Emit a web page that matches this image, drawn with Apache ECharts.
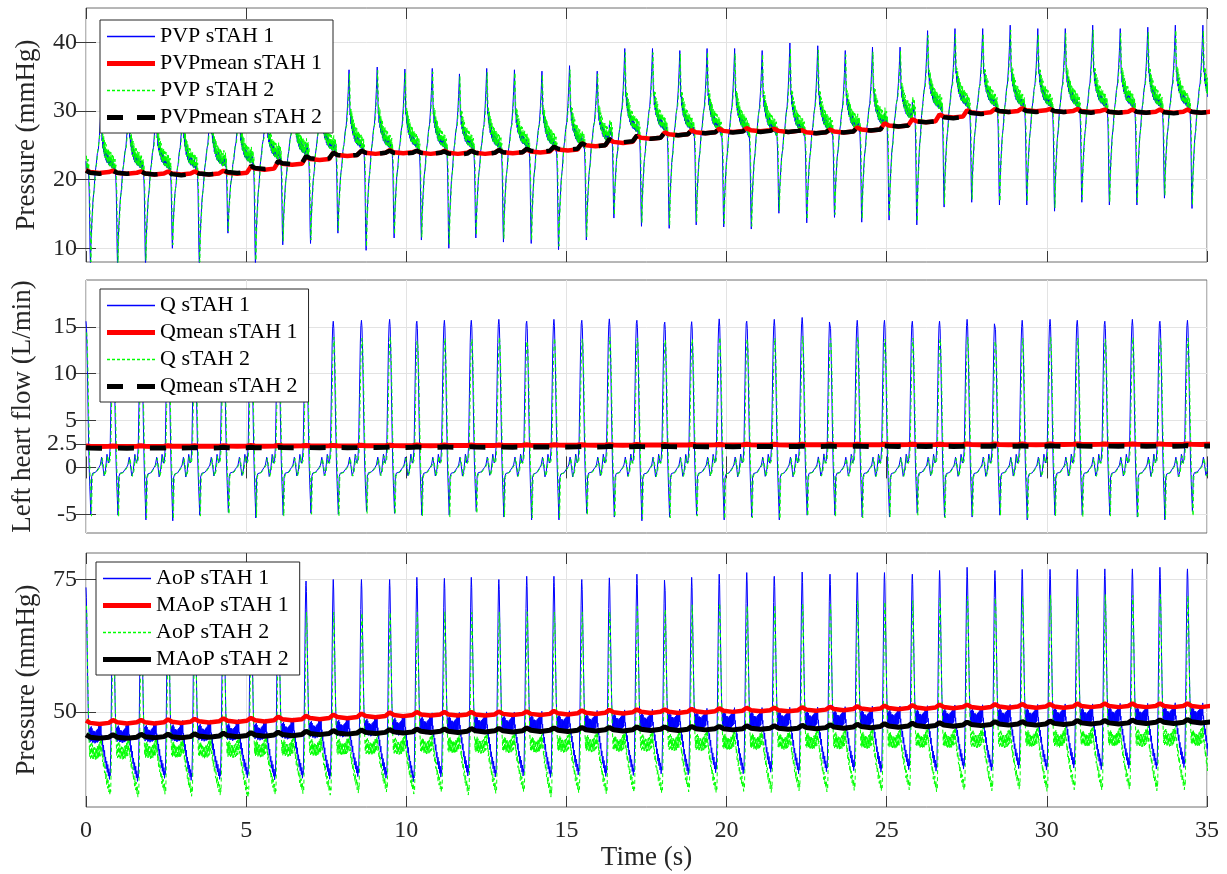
<!DOCTYPE html>
<html>
<head>
<meta charset="utf-8">
<script src="https://cdn.jsdelivr.net/npm/echarts@6/dist/echarts.min.js"></script>
<style>
  html, body { margin: 0; padding: 0; background: #fff; }
  #chart { width: 1227px; height: 874px; }
</style>
</head>
<body>
<div id="chart"></div>
<script>
// Beat timing (s) of each flow spike
const beatTimes = [0.0, 0.84, 1.72, 2.56, 3.39, 4.29, 5.15, 6.0, 6.87, 7.72, 8.6, 9.48, 10.33, 11.19, 12.03, 12.89, 13.76, 14.61, 15.48, 16.34, 17.2, 18.07, 18.91, 19.77, 20.63, 21.49, 22.36, 23.23, 24.08, 24.93, 25.8, 26.65, 27.51, 28.38, 29.23, 30.1, 30.95, 31.81, 32.67, 33.53, 34.39];

// Top panel: pulmonary venous pressure (mmHg), one value per beat
const pvp1Peak = [31, 32, 32, 32, 33, 33, 33, 34, 34, 36.0, 36.4, 36.1, 36.2, 35.4, 36.2, 36.0, 35.8, 36.6, 35.8, 39.1, 39.1, 38.8, 39.1, 39.1, 38.8, 39.9, 39.5, 38.8, 39.3, 39.3, 41.7, 42.0, 42.0, 42.5, 42.0, 42.0, 42.5, 42.0, 42.2, 42.5, 42.5];
const pvp1Trough = [7.5, 7.5, 7.5, 10.0, 7.5, 12.2, 7.5, 10.5, 10.7, 12.2, 9.7, 11.5, 11.2, 10.0, 11.5, 10.9, 10.7, 9.8, 11.2, 14.4, 13.2, 12.9, 13.4, 13.1, 12.8, 15.1, 13.7, 14.5, 13.8, 14.1, 13.4, 16.0, 16.7, 16.3, 16.3, 15.4, 16.7, 16.3, 16.3, 17.3, 15.8];
const pvp1Plateau = [22.5, 22.5, 22.5, 22.5, 22.8, 23.2, 23.8, 24.4, 25.0, 25.4, 25.5, 25.5, 25.5, 25.5, 25.5, 25.6, 25.7, 25.8, 26.2, 27.8, 28.0, 28.0, 28.0, 27.9, 27.8, 27.8, 27.9, 28.1, 28.6, 29.5, 31.2, 31.5, 31.5, 31.5, 31.5, 31.5, 31.5, 31.5, 31.5, 31.5, 31.5];
const pvp2Peak = [30.5, 31.5, 31.5, 31.5, 32.5, 32.5, 32.5, 33.5, 33.5, 35.5, 35.9, 35.6, 35.7, 35.0, 35.6, 35.6, 35.3, 36.0, 35.4, 38.5, 38.5, 38.3, 38.6, 38.4, 38.3, 39.2, 38.9, 38.2, 38.6, 38.7, 41.0, 41.2, 41.3, 41.8, 41.2, 41.3, 41.8, 41.3, 41.5, 41.8, 41.7];
const pvp2Trough = [8.0, 7.8, 8.2, 10.5, 8.0, 12.5, 8.2, 11.0, 11.2, 12.6, 10.2, 12.0, 11.6, 10.5, 11.9, 11.4, 11.2, 10.3, 11.7, 14.8, 13.7, 13.4, 13.9, 13.6, 13.2, 15.5, 14.2, 14.9, 14.3, 14.6, 13.9, 16.4, 17.1, 16.8, 16.8, 15.9, 17.1, 16.8, 16.7, 17.7, 16.3];
const pvp2Plateau = [22.9, 22.9, 22.9, 22.9, 23.2, 23.6, 24.2, 24.8, 25.4, 25.8, 25.9, 25.9, 25.9, 25.9, 25.9, 26.0, 26.1, 26.2, 26.6, 28.2, 28.4, 28.4, 28.4, 28.3, 28.2, 28.2, 28.3, 28.5, 29.0, 29.9, 31.6, 31.9, 31.9, 31.9, 31.9, 31.9, 31.9, 31.9, 31.9, 31.9, 31.9];
const pvpMean1 = [21.1, 21.0, 20.9, 20.9, 20.9, 21.0, 21.6, 22.3, 23.0, 23.6, 23.9, 24.0, 23.9, 23.9, 23.9, 24.0, 24.1, 24.4, 25.0, 25.5, 26.1, 26.6, 26.9, 27.1, 27.2, 27.1, 26.9, 27.0, 27.3, 27.9, 28.5, 29.2, 29.8, 30.0, 30.1, 30.0, 30.0, 29.9, 29.9, 29.9, 29.9];
const pvpMean2 = [21.0, 21.0, 20.9, 20.8, 20.9, 21.1, 21.7, 22.4, 23.1, 23.6, 23.9, 23.9, 23.9, 23.8, 23.9, 24.0, 24.2, 24.5, 25.0, 25.6, 26.1, 26.6, 26.9, 27.0, 27.1, 27.1, 26.9, 27.0, 27.3, 27.9, 28.5, 29.1, 29.7, 30.0, 30.0, 30.0, 29.9, 29.9, 29.9, 29.8, 29.9];

// Middle panel: left heart flow (L/min)
const q1Peak = [15.6, 15.5, 15.5, 15.5, 15.5, 15.5, 15.5, 15.5, 15.5, 15.6, 15.7, 15.8, 15.6, 15.7, 15.7, 15.8, 15.6, 15.8, 15.7, 15.85, 15.7, 15.5, 15.55, 15.85, 15.6, 15.8, 16.0, 15.6, 15.7, 15.7, 15.6, 15.6, 15.8, 15.5, 15.7, 15.8, 15.7, 15.6, 15.8, 15.6, 15.7];
const q1Trough = [-5.0, -5.1, -5.6, -5.7, -5.1, -4.8, -5.4, -5.1, -4.9, -5.0, -4.7, -4.9, -5.1, -5.1, -4.7, -5.3, -5.6, -5.6, -4.9, -5.3, -5.7, -5.3, -5.1, -5.6, -5.3, -5.6, -5.1, -5.1, -5.3, -5.3, -4.9, -5.3, -5.3, -5.1, -5.6, -5.1, -5.1, -5.1, -5.3, -5.6, -4.7];
const q2Peak = [14.4, 13.8, 13.8, 13.8, 13.8, 13.8, 13.8, 13.8, 13.8, 13.9, 13.8, 13.9, 13.6, 13.8, 13.7, 13.9, 13.6, 13.8, 13.7, 13.9, 13.8, 13.6, 13.7, 13.9, 13.7, 13.8, 14.0, 13.8, 13.9, 13.7, 13.8, 13.7, 13.9, 13.6, 13.8, 13.9, 13.8, 13.7, 13.9, 13.8, 13.8];
const q2Trough = [-5.2, -5.3, -5.4, -5.5, -5.2, -5.0, -5.3, -5.2, -5.0, -5.2, -4.9, -5.0, -5.2, -5.3, -4.9, -5.3, -5.4, -5.5, -5.1, -5.3, -5.5, -5.4, -5.2, -5.5, -5.4, -5.5, -5.2, -5.3, -5.4, -5.3, -5.1, -5.4, -5.2, -5.2, -5.5, -5.2, -5.3, -5.2, -5.4, -5.5, -5.2];
const qBaseline = 0;
const qMean1 = [2.25, 2.25, 2.26, 2.27, 2.27, 2.28, 2.29, 2.3, 2.3, 2.31, 2.32, 2.33, 2.34, 2.35, 2.35, 2.36, 2.37, 2.38, 2.38, 2.39, 2.4, 2.4, 2.41, 2.41, 2.42, 2.42, 2.43, 2.43, 2.43, 2.44, 2.44, 2.44, 2.45, 2.45, 2.45, 2.46, 2.46, 2.46, 2.46, 2.47, 2.47];
const qMean2 = [2.07, 2.07, 2.08, 2.09, 2.09, 2.1, 2.11, 2.12, 2.12, 2.13, 2.14, 2.15, 2.16, 2.17, 2.17, 2.18, 2.19, 2.2, 2.2, 2.21, 2.22, 2.22, 2.23, 2.23, 2.24, 2.24, 2.25, 2.25, 2.25, 2.26, 2.26, 2.26, 2.27, 2.27, 2.27, 2.28, 2.28, 2.28, 2.28, 2.29, 2.29];

// Bottom panel: aortic pressure (mmHg)
const aop1Peak = [73.5, 75, 75, 75, 75, 75, 75, 75, 74.7, 75.0, 75.0, 75.0, 75.4, 75.2, 75.4, 75.0, 75.6, 75.6, 75.0, 75.3, 76.0, 74.8, 75.4, 76.0, 76.3, 75.6, 76.4, 76.0, 76.3, 76.3, 76.0, 76.7, 77.3, 76.7, 76.9, 76.9, 76.9, 77.0, 77.0, 77.3, 77.0];
const aop1Trough = [38.0, 37.6, 38.2, 37.8, 38.0, 38.3, 37.9, 38.2, 38.0, 38.5, 38.2, 37.5, 38.4, 38.6, 38.4, 38.6, 38.3, 38.8, 38.5, 38.7, 39.0, 38.8, 39.2, 39.0, 39.3, 39.0, 39.4, 39.6, 39.3, 39.8, 39.5, 39.9, 39.6, 40.0, 39.7, 40.1, 39.8, 40.0, 39.9, 40.2, 39.9];
const aop1Plateau = [45.4, 45.5, 45.6, 45.7, 45.8, 45.9, 46.0, 46.2, 46.4, 46.6, 46.8, 47.0, 47.2, 47.3, 47.4, 47.4, 47.5, 47.6, 47.7, 47.8, 47.9, 48.0, 48.1, 48.2, 48.2, 48.3, 48.3, 48.4, 48.5, 48.5, 48.6, 48.7, 48.7, 48.8, 48.8, 48.9, 48.9, 49.0, 49.0, 49.1, 49.1];
const aop2Peak = [70, 69, 69, 69, 69, 69, 69, 68.8, 68.8, 68.8, 68.7, 68.8, 68.8, 68.9, 68.8, 68.8, 68.9, 68.8, 68.8, 68.9, 69.9, 69.3, 70.2, 70.5, 70.0, 70.2, 70.5, 70.3, 71.0, 70.8, 71.0, 71.5, 71.8, 71.5, 71.9, 72.0, 71.8, 72.2, 72.0, 72.2, 72.0];
const aop2Trough = [35.0, 34.6, 35.2, 34.8, 35.0, 34.5, 35.1, 35.3, 35.0, 35.4, 35.6, 35.2, 35.5, 35.0, 35.3, 35.6, 34.6, 35.4, 35.2, 35.5, 35.3, 35.6, 35.4, 35.7, 35.5, 35.8, 35.6, 35.9, 35.7, 36.0, 35.6, 35.9, 35.8, 36.1, 35.7, 36.0, 35.9, 36.1, 35.8, 36.0, 35.7];
const aop2Plateau = [42.3, 42.4, 42.5, 42.6, 42.6, 42.7, 42.8, 42.9, 43.0, 43.1, 43.2, 43.3, 43.4, 43.5, 43.5, 43.6, 43.6, 43.7, 43.8, 43.8, 43.9, 44.0, 44.0, 44.1, 44.2, 44.2, 44.3, 44.3, 44.4, 44.4, 44.5, 44.5, 44.6, 44.6, 44.7, 44.7, 44.8, 44.8, 44.8, 44.9, 44.9];
const maop1 = [47.9, 48.0, 48.0, 48.1, 48.2, 48.3, 48.4, 48.6, 48.8, 49.0, 49.2, 49.4, 49.5, 49.5, 49.5, 49.6, 49.6, 49.7, 49.8, 49.9, 50.0, 50.0, 50.1, 50.2, 50.3, 50.3, 50.4, 50.5, 50.6, 50.7, 50.8, 50.9, 50.9, 51.0, 51.0, 51.0, 51.1, 51.1, 51.1, 51.1, 51.1];
const maop2 = [45.2, 45.2, 45.3, 45.3, 45.4, 45.5, 45.6, 45.7, 45.9, 46.0, 46.1, 46.2, 46.3, 46.3, 46.4, 46.4, 46.5, 46.5, 46.6, 46.6, 46.7, 46.7, 46.8, 46.8, 46.9, 46.9, 47.0, 47.1, 47.2, 47.3, 47.4, 47.5, 47.6, 47.7, 47.7, 47.8, 47.9, 47.9, 48.0, 48.0, 48.1];

// One-beat shapes: [phase, level, noise]
// level 1 = beat peak, 0 = plateau, -1 = beat trough
const pvpShape = [
    [0.000, -0.02, 0.8], [0.015, -0.03, -0.9], [0.030, -0.04, 0.6], [0.045, -0.05, -1.0],
    [0.060, -0.06, 0.9], [0.075, -0.08, -0.7], [0.090, -0.10, 0.7], [0.105, -0.14, -0.8],
    [0.120, -0.30, 0.3], [0.135, -0.55, -0.2], [0.150, -0.85, 0], [0.165, -1.00, 0],
    [0.190, -0.75, 0.2], [0.220, -0.55, -0.3], [0.260, -0.38, 0.4], [0.300, -0.25, -0.4],
    [0.340, -0.12, 0.5], [0.380, 0.00, -0.5], [0.420, 0.12, 0.4], [0.460, 0.25, -0.3],
    [0.500, 0.45, 0.2], [0.530, 0.70, 0], [0.560, 1.00, 0], [0.580, 0.62, 0.3],
    [0.595, 0.40, -0.4], [0.610, 0.36, 0.9], [0.625, 0.30, -0.8], [0.640, 0.32, 1.0],
    [0.655, 0.24, -0.9], [0.670, 0.26, 0.8], [0.685, 0.18, -1.0], [0.700, 0.20, 0.9],
    [0.715, 0.14, -0.7], [0.730, 0.15, 1.0], [0.745, 0.10, -0.9], [0.760, 0.11, 0.7],
    [0.775, 0.07, -1.0], [0.790, 0.08, 0.9], [0.805, 0.05, -0.8], [0.820, 0.06, 1.0],
    [0.835, 0.03, -0.9], [0.850, 0.04, 0.8], [0.865, 0.02, -1.0], [0.880, 0.02, 0.9],
    [0.895, 0.01, -0.8], [0.910, 0.00, 1.0], [0.925, 0.00, -0.9], [0.940, -0.01, 0.7],
    [0.955, -0.01, -1.0], [0.970, -0.02, 0.9], [0.985, -0.02, -0.8]
];
const flowShape = [
    [0.00, 1.00, 0], [0.02, 0.95, 0], [0.05, 0.70, 0], [0.08, 0.35, 0], [0.11, 0.05, 0],
    [0.14, -0.40, 0], [0.18, -1.00, 0], [0.21, -0.20, 0], [0.25, -0.14, 0.3],
    [0.30, -0.10, -0.3], [0.36, -0.12, 0.3], [0.42, -0.06, -0.3], [0.48, -0.02, 0.3],
    [0.53, 0.02, -0.2], [0.58, 0.07, 0], [0.62, 0.02, 0], [0.67, -0.18, 0],
    [0.72, -0.08, 0], [0.78, 0.09, 0], [0.83, 0.03, 0], [0.87, 0.05, 0],
    [0.90, 0.15, 0], [0.93, 0.50, 0], [0.96, 0.85, 0], [0.98, 0.97, 0]
];
const aopShape = [
    [0.000, 1.00, 0], [0.015, 0.93, 0], [0.035, 0.70, 0], [0.060, 0.40, 0],
    [0.085, 0.15, 0], [0.105, 0.03, 0.5], [0.120, 0.00, -0.8], [0.135, 0.02, 0.9],
    [0.150, -0.02, -1.0], [0.165, 0.03, 0.8], [0.180, 0.00, -0.9], [0.195, 0.03, 1.0],
    [0.210, -0.02, -0.8], [0.225, 0.02, 0.9], [0.240, -0.03, -1.0], [0.255, 0.01, 0.7],
    [0.270, -0.04, -0.9], [0.285, 0.00, 1.0], [0.300, -0.04, -0.8], [0.315, 0.00, 0.9],
    [0.330, -0.05, -1.0], [0.345, -0.01, 0.8], [0.360, -0.05, -0.9], [0.375, 0.00, 1.0],
    [0.390, -0.04, -0.8], [0.405, 0.01, 0.9], [0.420, -0.03, -1.0], [0.435, 0.02, 0.8],
    [0.450, -0.02, -0.9], [0.465, 0.03, 1.0], [0.480, -0.01, -0.8], [0.495, 0.04, 0.9],
    [0.510, 0.01, -1.0], [0.525, 0.05, 0.8], [0.540, 0.03, -0.7], [0.555, 0.06, 0.9],
    [0.570, 0.01, -0.8], [0.585, -0.06, 0.7], [0.600, -0.12, -0.9], [0.615, -0.20, 0.8],
    [0.630, -0.26, -1.0], [0.650, -0.35, 0.9], [0.670, -0.42, -0.8], [0.690, -0.50, 1.0],
    [0.710, -0.56, -0.9], [0.730, -0.64, 0.8], [0.750, -0.70, -1.0], [0.770, -0.76, 0.9],
    [0.790, -0.82, -0.8], [0.810, -0.86, 1.0], [0.830, -0.90, -0.9], [0.850, -0.94, 0.8],
    [0.870, -0.97, -1.0], [0.885, -1.00, 0.6], [0.900, -0.96, -0.4], [0.915, -0.50, 0],
    [0.935, 0.10, 0], [0.955, 0.45, 0], [0.975, 0.80, 0], [0.990, 0.96, 0]
];
// small ripple of the moving means around each beat: [phase, level]
const meanShape = [[0, 1], [0.06, 0.2], [0.15, 0], [0.5, -0.5], [0.85, 0]];

const FONT = '"Liberation Serif", "Times New Roman", serif';
const BLUE = '#0000ff', RED = '#ff0000', GREEN = '#00ff00', BLACK = '#000000';

function beatLength(k) {
    if (k + 1 < beatTimes.length) return beatTimes[k + 1] - beatTimes[k];
    return beatTimes[k] - beatTimes[k - 1];
}

// lay a traced beat shape onto each beat, scaled by that beat's values
function wave(shape, peak, trough, plateau, noise, lag) {
    const pts = [];
    beatTimes.forEach((t0, k) => {
        const T = beatLength(k);
        const base = Array.isArray(plateau) ? plateau[k] : plateau;
        shape.forEach(([ph, lvl, fz]) => {
            let v = lvl >= 0 ? base + lvl * (peak[k] - base) : base + lvl * (base - trough[k]);
            pts.push([+(t0 + lag + ph * T).toFixed(4), +(v + fz * noise).toFixed(3)]);
        });
    });
    return pts;
}

function meanWave(mean, amp) {
    const pts = [];
    beatTimes.forEach((t0, k) => {
        const T = beatLength(k);
        meanShape.forEach(([ph, lvl]) => {
            pts.push([+(t0 + ph * T).toFixed(4), +(mean[k] + lvl * amp).toFixed(3)]);
        });
    });
    return pts;
}

function lineSeries(name, panel, data, color, width, dash) {
    return {
        name: name,
        type: 'line',
        xAxisIndex: panel * 2,
        yAxisIndex: panel * 2,
        data: data,
        symbol: 'none',
        showSymbol: false,
        clip: true,
        color: color,
        lineStyle: { color: color, width: width, type: dash || 'solid' },
        emphasis: { disabled: true }
    };
}

const gridLine = { show: true, lineStyle: { color: '#e3e3e3', width: 1 } };
const tickStyle = { color: '#3a3a3a', width: 1 };

function xAxes(panel, withLabels) {
    const common = { type: 'value', gridIndex: panel, min: 0, max: 35, interval: 5 };
    return [
        {
            ...common,
            position: 'bottom',
            axisLine: { show: false },
            axisTick: { show: true, inside: true, length: 11, lineStyle: tickStyle },
            splitLine: gridLine,
            axisLabel: {
                show: withLabels, margin: 12, fontFamily: FONT, fontSize: 24, color: '#262626'
            },
            name: withLabels ? 'Time (s)' : '',
            nameLocation: 'middle',
            nameGap: 37,
            nameTextStyle: { fontFamily: FONT, fontSize: 27, color: '#262626' }
        },
        {
            ...common,
            position: 'top',
            axisLine: { show: false },
            axisTick: { show: true, inside: true, length: 11, lineStyle: tickStyle },
            splitLine: { show: false },
            axisLabel: { show: false }
        }
    ];
}

function yAxes(panel, min, max, ticks, name) {
    const common = { type: 'value', gridIndex: panel, min: min, max: max };
    return [
        {
            ...common,
            position: 'left',
            axisLine: { show: false },
            axisTick: { show: true, inside: true, length: 10, lineStyle: tickStyle, customValues: ticks },
            splitLine: gridLine,
            axisLabel: {
                customValues: ticks, margin: 9, fontFamily: FONT, fontSize: 24, color: '#262626'
            },
            name: name,
            nameLocation: 'middle',
            nameGap: 46,
            nameTextStyle: { fontFamily: FONT, fontSize: 27, color: '#262626' }
        },
        {
            ...common,
            position: 'right',
            axisLine: { show: false },
            axisTick: { show: true, inside: true, length: 10, lineStyle: tickStyle, customValues: ticks },
            splitLine: { show: false },
            axisLabel: { show: false }
        }
    ];
}

// legend line samples drawn as filled bars inside a 48 x 12 icon box
function iconPath(segments, thick) {
    const y0 = 6 - thick / 2;
    let d = 'path://M0,0h0.01v0.01h-0.01z M47.99,11.99h0.01v0.01h-0.01z';
    segments.forEach(([a, b]) => {
        d += ' M' + a + ',' + y0 + 'H' + b + 'V' + (y0 + thick) + 'H' + a + 'Z';
    });
    return d;
}
const ICON_THIN = iconPath([[0, 48]], 1.6);
const ICON_THICK = iconPath([[0, 48]], 5);
const ICON_DOTTED = iconPath([[0, 3], [5, 8], [10, 13], [15, 18], [20, 23], [25, 28], [30, 33], [35, 38], [40, 43], [45, 48]], 1.6);
const ICON_DASHED = iconPath([[0, 16], [30, 48]], 5);

function legendBox(items, left, top) {
    return {
        data: items.map(([name, color, icon]) => ({
            name: name,
            icon: icon,
            itemStyle: { color: color, opacity: 1, borderWidth: 0 }
        })),
        orient: 'vertical',
        left: left,
        top: top,
        itemWidth: 48,
        itemHeight: 12,
        itemGap: 4,
        padding: [5, 11, 4, 7],
        symbolKeepAspect: false,
        backgroundColor: '#ffffff',
        borderColor: '#262626',
        borderWidth: 1,
        borderRadius: 0,
        selectedMode: false,
        textStyle: { fontFamily: FONT, fontSize: 22, color: '#000', lineHeight: 23 }
    };
}

const chart = echarts.init(document.getElementById('chart'), null, { renderer: 'canvas' });

chart.setOption({
    animation: false,
    backgroundColor: '#ffffff',
    grid: [
        { left: 86, right: 20, top: 8, height: 254, show: true, borderColor: '#6e6e6e', borderWidth: 1, backgroundColor: 'transparent' },
        { left: 86, right: 20, top: 280, height: 253, show: true, borderColor: '#6e6e6e', borderWidth: 1, backgroundColor: 'transparent' },
        { left: 86, right: 20, top: 553, height: 254, show: true, borderColor: '#6e6e6e', borderWidth: 1, backgroundColor: 'transparent' }
    ],
    xAxis: [...xAxes(0, false), ...xAxes(1, false), ...xAxes(2, true)],
    yAxis: [
        ...yAxes(0, 8, 45, [10, 20, 30, 40], 'Pressure (mmHg)'),
        ...yAxes(1, -7, 20, [-5, 0, 2.5, 5, 10, 15], 'Left heart flow (L/min)'),
        ...yAxes(2, 32, 80, [50, 75], 'Pressure (mmHg)')
    ],
    legend: [
        legendBox([['PVP sTAH 1', BLUE, ICON_THIN], ['PVPmean sTAH 1', RED, ICON_THICK], ['PVP sTAH 2', GREEN, ICON_DOTTED], ['PVPmean sTAH 2', BLACK, ICON_DASHED]], 100, 20),
        legendBox([['Q sTAH 1', BLUE, ICON_THIN], ['Qmean sTAH 1', RED, ICON_THICK], ['Q sTAH 2', GREEN, ICON_DOTTED], ['Qmean sTAH 2', BLACK, ICON_DASHED]], 100, 289),
        legendBox([['AoP sTAH 1', BLUE, ICON_THIN], ['MAoP sTAH 1', RED, ICON_THICK], ['AoP sTAH 2', GREEN, ICON_DOTTED], ['MAoP sTAH 2', BLACK, ICON_THICK]], 96, 562)
    ],
    series: [
        lineSeries('PVP sTAH 1', 0, wave(pvpShape, pvp1Peak, pvp1Trough, pvp1Plateau, 0.6, 0), BLUE, 1),
        lineSeries('PVP sTAH 2', 0, wave(pvpShape, pvp2Peak, pvp2Trough, pvp2Plateau, 1.1, 0.015), GREEN, 1, [4, 3]),
        lineSeries('PVPmean sTAH 1', 0, meanWave(pvpMean1, 0.3), RED, 4.5),
        lineSeries('PVPmean sTAH 2', 0, meanWave(pvpMean2, 0.3), BLACK, 4.5, [16, 13]),

        lineSeries('Q sTAH 1', 1, wave(flowShape, q1Peak, q1Trough, qBaseline, 0.3, 0), BLUE, 1),
        lineSeries('Q sTAH 2', 1, wave(flowShape, q2Peak, q2Trough, qBaseline, 0.3, 0.02), GREEN, 1, [4, 3]),
        lineSeries('Qmean sTAH 1', 1, meanWave(qMean1, 0.04), RED, 5),
        lineSeries('Qmean sTAH 2', 1, meanWave(qMean2, 0.04), BLACK, 5, [16, 16]),

        lineSeries('AoP sTAH 1', 2, wave(aopShape, aop1Peak, aop1Trough, aop1Plateau, 1.0, 0), BLUE, 1),
        lineSeries('AoP sTAH 2', 2, wave(aopShape, aop2Peak, aop2Trough, aop2Plateau, 1.0, 0.015), GREEN, 1, [4, 3]),
        lineSeries('MAoP sTAH 1', 2, meanWave(maop1, 0.45), RED, 4.5),
        lineSeries('MAoP sTAH 2', 2, meanWave(maop2, 0.45), BLACK, 5)
    ]
});
</script>
</body>
</html>
